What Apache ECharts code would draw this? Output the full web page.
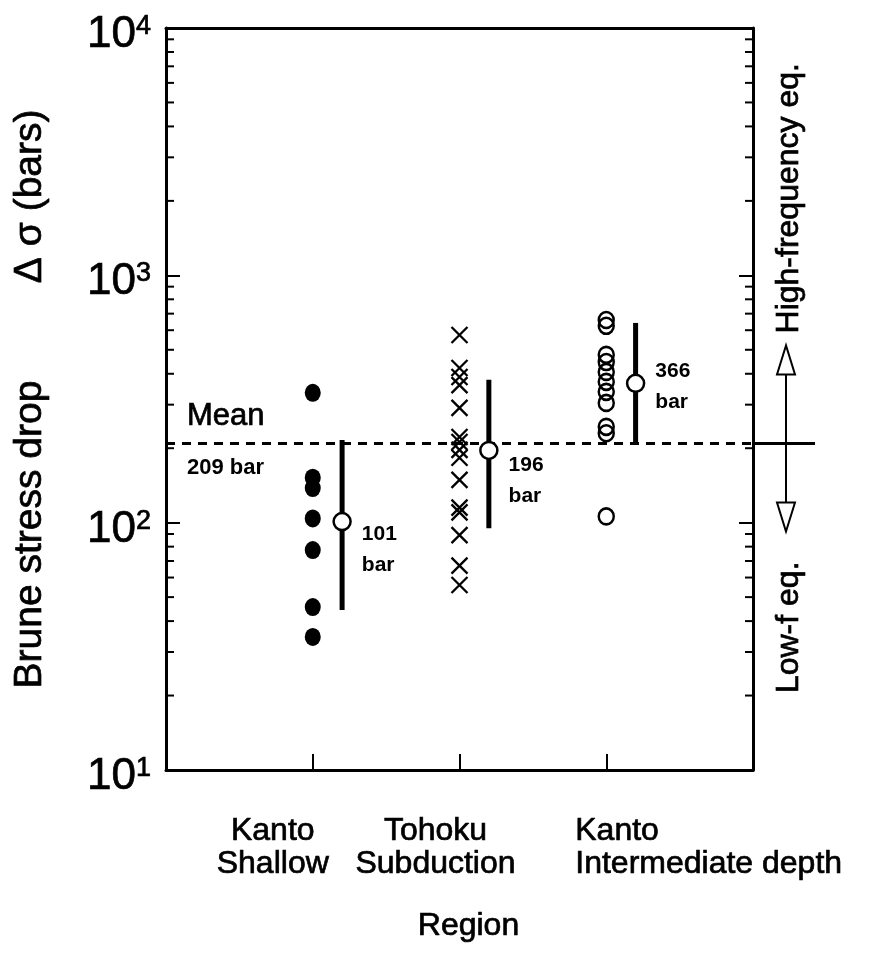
<!DOCTYPE html>
<html><head><meta charset="utf-8">
<script src="https://cdn.jsdelivr.net/npm/echarts@6/dist/echarts.min.js"></script>
<style>html,body{margin:0;padding:0;background:#fff}#c{width:873px;height:953px}</style>
</head><body><div id="c"></div>
<script>
// ---------- data ----------
const categories = ['Kanto\nShallow', 'Tohoku\nSubduction', 'Kanto\nIntermediate depth'];
const categoryX = [1, 2, 3];
const kantoShallow = [335, 152, 138, 104, 77.5, 45.6, 34.5];
const tohokuSubduction = [574, 422, 388, 360, 291, 222, 212, 197, 183, 149, 115, 110, 89, 67, 56];
const kantoIntermediate = [660, 625, 477, 446, 407, 371, 338, 305, 244, 230, 106];
const groupMeans = [101, 196, 366];
const meanLow = [44.4, 95, 209];
const meanHigh = [216, 378, 642];
const meanLabels = ['101\nbar', '196\nbar', '366\nbar'];
const overallMean = 209;
const overallMeanLabel = ['Mean', '209 bar'];
const yMinorTicks = [20, 30, 40, 50, 60, 70, 80, 90, 200, 300, 400, 500, 600, 700, 800, 900, 2000, 3000, 4000, 5000, 6000, 7000, 8000, 9000];
const sideLabels = ['High-frequency eq.', 'Low-f eq.'];
const yTitle = 'Brune stress drop         \u0394 \u03c3 (bars)';
const xTitle = 'Region';

// ---------- styling ----------
const FONT = "'Liberation Sans', Arial, sans-serif";
const INK = { textBorderColor: '#000', textBorderWidth: 0.7 };
const GINK = { stroke: '#000', lineWidth: 0.7 };
const meanOffset = 0.2;
const meanLabelOffsets = [[0, 28], [0, 30], [0, 3]];
const crossPath = 'path://M0,0L10,10M10,0L0,10';

const chart = echarts.init(document.getElementById('c'));

const option = {
  animation: false,
  backgroundColor: '#fff',
  grid: { left: 166, right: 120, top: 28, bottom: 183, show: false },
  xAxis: [{
    type: 'value', min: 0, max: 4, interval: 1, position: 'bottom',
    axisLine: { show: true, onZero: false, lineStyle: { color: '#000', width: 3 } },
    axisTick: { show: true, inside: true, length: 16, lineStyle: { color: '#000', width: 2 }, customValues: categoryX },
    axisLabel: { show: false },
    splitLine: { show: false },
    name: xTitle, nameLocation: 'middle', nameGap: 140,
    nameTextStyle: Object.assign({ fontFamily: FONT, fontSize: 32, color: '#000', padding: [0, 0, 0, 18] }, INK)
  }, {
    type: 'value', min: 0, max: 4, position: 'top',
    axisLine: { show: true, onZero: false, lineStyle: { color: '#000', width: 3 } },
    axisTick: { show: false }, axisLabel: { show: false }, splitLine: { show: false }
  }],
  yAxis: [{
    type: 'log', logBase: 10, min: 10, max: 10000, position: 'left',
    axisLine: { show: true, onZero: false, lineStyle: { color: '#000', width: 3 } },
    axisTick: { show: true, inside: true, length: 14, lineStyle: { color: '#000', width: 2 } },
    axisLabel: {
      margin: 15, color: '#000', padding: [14, 0, 0, 0],
      formatter: v => '{b|10}{s|' + Math.round(Math.log10(v)) + '}',
      rich: {
        b: Object.assign({ fontFamily: FONT, fontSize: 44, color: '#000', lineHeight: 44, verticalAlign: 'bottom' }, INK),
        s: Object.assign({ fontFamily: FONT, fontSize: 27, color: '#000', lineHeight: 44, verticalAlign: 'top' }, INK)
      }
    },
    splitLine: { show: false },
    name: yTitle, nameLocation: 'middle', nameGap: 116, nameRotate: 90,
    nameTextStyle: Object.assign({ fontFamily: FONT, fontSize: 39, color: '#000' }, INK)
  }, {
    type: 'log', logBase: 10, min: 10, max: 10000, position: 'right',
    axisLine: { show: true, onZero: false, lineStyle: { color: '#000', width: 3 } },
    axisTick: { show: true, inside: true, length: 14, lineStyle: { color: '#000', width: 2 } },
    axisLabel: { show: false }, splitLine: { show: false }
  }],
  series: [
    { // minor ticks on both vertical axes
      type: 'custom', silent: true, z: 1,
      data: yMinorTicks.map(v => [0, v]),
      renderItem: (params, api) => {
        const v = api.value(1);
        const l = api.coord([0, v]);
        const r = api.coord([4, v]);
        return { type: 'group', children: [
          { type: 'line', shape: { x1: l[0], y1: l[1], x2: l[0] + 8, y2: l[1] }, style: { stroke: '#000', lineWidth: 2 } },
          { type: 'line', shape: { x1: r[0] - 8, y1: r[1], x2: r[0], y2: r[1] }, style: { stroke: '#000', lineWidth: 2 } }
        ] };
      }
    },
    { // overall mean dashed line
      type: 'line', symbol: 'none', silent: true, z: 2,
      data: [[0, overallMean], [4, overallMean]],
      lineStyle: { color: '#000', width: 3, type: [9, 7] }
    },
    {
      type: 'scatter', name: 'Kanto Shallow', z: 3,
      data: kantoShallow.map(v => [categoryX[0], v]),
      symbol: 'circle', symbolSize: [16, 18],
      itemStyle: { color: '#000', opacity: 1 }
    },
    {
      type: 'scatter', name: 'Tohoku Subduction', z: 3,
      data: tohokuSubduction.map(v => [categoryX[1], v]),
      symbol: crossPath, symbolSize: 16,
      itemStyle: { color: 'rgba(0,0,0,0)', borderColor: '#000', borderWidth: 2.3, opacity: 1 }
    },
    {
      type: 'scatter', name: 'Kanto Intermediate', z: 3,
      data: kantoIntermediate.map(v => [categoryX[2], v]),
      symbol: 'circle', symbolSize: [15, 16],
      itemStyle: { color: 'rgba(0,0,0,0)', borderColor: '#000', borderWidth: 2.5, opacity: 1 }
    },
    { // error bars
      type: 'custom', silent: true, z: 4,
      data: categoryX.map((x, i) => [x + meanOffset, meanLow[i], meanHigh[i]]),
      renderItem: (params, api) => {
        const a = api.coord([api.value(0), api.value(1)]);
        const b = api.coord([api.value(0), api.value(2)]);
        return { type: 'line', shape: { x1: a[0], y1: a[1], x2: b[0], y2: b[1] }, style: { stroke: '#000', lineWidth: 5 } };
      }
    },
    {
      type: 'scatter', name: 'Means', z: 5,
      data: categoryX.map((x, i) => ({
        value: [x + meanOffset, groupMeans[i]],
        label: { show: true, position: 'right', distance: 10, offset: meanLabelOffsets[i], formatter: meanLabels[i] }
      })),
      symbol: 'circle', symbolSize: 17,
      itemStyle: { color: '#fff', borderColor: '#000', borderWidth: 2.5, opacity: 1 },
      label: { fontFamily: FONT, fontSize: 21, fontWeight: 'bold', color: '#000', lineHeight: 31, align: 'left' }
    }
  ]
};
chart.setOption(option);

// ---------- annotations placed via chart scales ----------
function px(x, y) { return chart.convertToPixel({ gridIndex: 0 }, [x, y]); }
const meanL = px(0, overallMean);
const meanR = px(4, overallMean);
const bottomY = px(0, 10)[1];
const graphics = [];
function txt(x, y, text, font, align, extra) {
  return Object.assign({ type: 'text', x: x, y: y, style: Object.assign({ text: text, font: font, fill: '#000', textAlign: align, textVerticalAlign: 'middle' }, GINK) }, extra || {});
}

graphics.push(txt(meanL[0] + 21, meanL[1] - 27, overallMeanLabel[0], '31px ' + FONT, 'left'));
graphics.push(txt(meanL[0] + 21, meanL[1] + 24, overallMeanLabel[1], 'bold 22px ' + FONT, 'left', { style: { text: overallMeanLabel[1], font: 'bold 22px ' + FONT, fill: '#000', textAlign: 'left', textVerticalAlign: 'middle' } }));

// category labels
const catCfg = [
  { dx: -40, align: 'center' },
  { dx: -24, align: 'center' },
  { dx: -31, align: 'left' }
];
categories.forEach((c, i) => {
  const x = px(categoryX[i], 10)[0] + catCfg[i].dx;
  c.split('\n').forEach((t, j) => {
    graphics.push(txt(x, bottomY + 61 + j * 33, t, '32px ' + FONT, catCfg[i].align));
  });
});

// right-side reference line and arrows
const ax = meanR[0] + 33;
const my = meanR[1];
graphics.push({ type: 'line', shape: { x1: meanR[0], y1: my, x2: meanR[0] + 62, y2: my }, style: { stroke: '#000', lineWidth: 3 } });
const upTip = my - 98, dnTip = my + 88, headH = 29, headW = 9;
graphics.push({ type: 'line', shape: { x1: ax, y1: upTip + headH, x2: ax, y2: dnTip - headH }, style: { stroke: '#000', lineWidth: 2 } });
graphics.push({ type: 'polygon', shape: { points: [[ax, upTip], [ax - headW, upTip + headH], [ax + headW, upTip + headH]] }, style: { fill: '#fff', stroke: '#000', lineWidth: 2 } });
graphics.push({ type: 'polygon', shape: { points: [[ax, dnTip], [ax - headW, dnTip - headH], [ax + headW, dnTip - headH]] }, style: { fill: '#fff', stroke: '#000', lineWidth: 2 } });
graphics.push(txt(ax + 3, upTip - 12, sideLabels[0], '32px ' + FONT, 'left', { rotation: Math.PI / 2 }));
graphics.push(txt(ax + 3, dnTip + 30, sideLabels[1], '32px ' + FONT, 'right', { rotation: Math.PI / 2 }));

chart.setOption({ graphic: graphics });
</script>
</body></html>
